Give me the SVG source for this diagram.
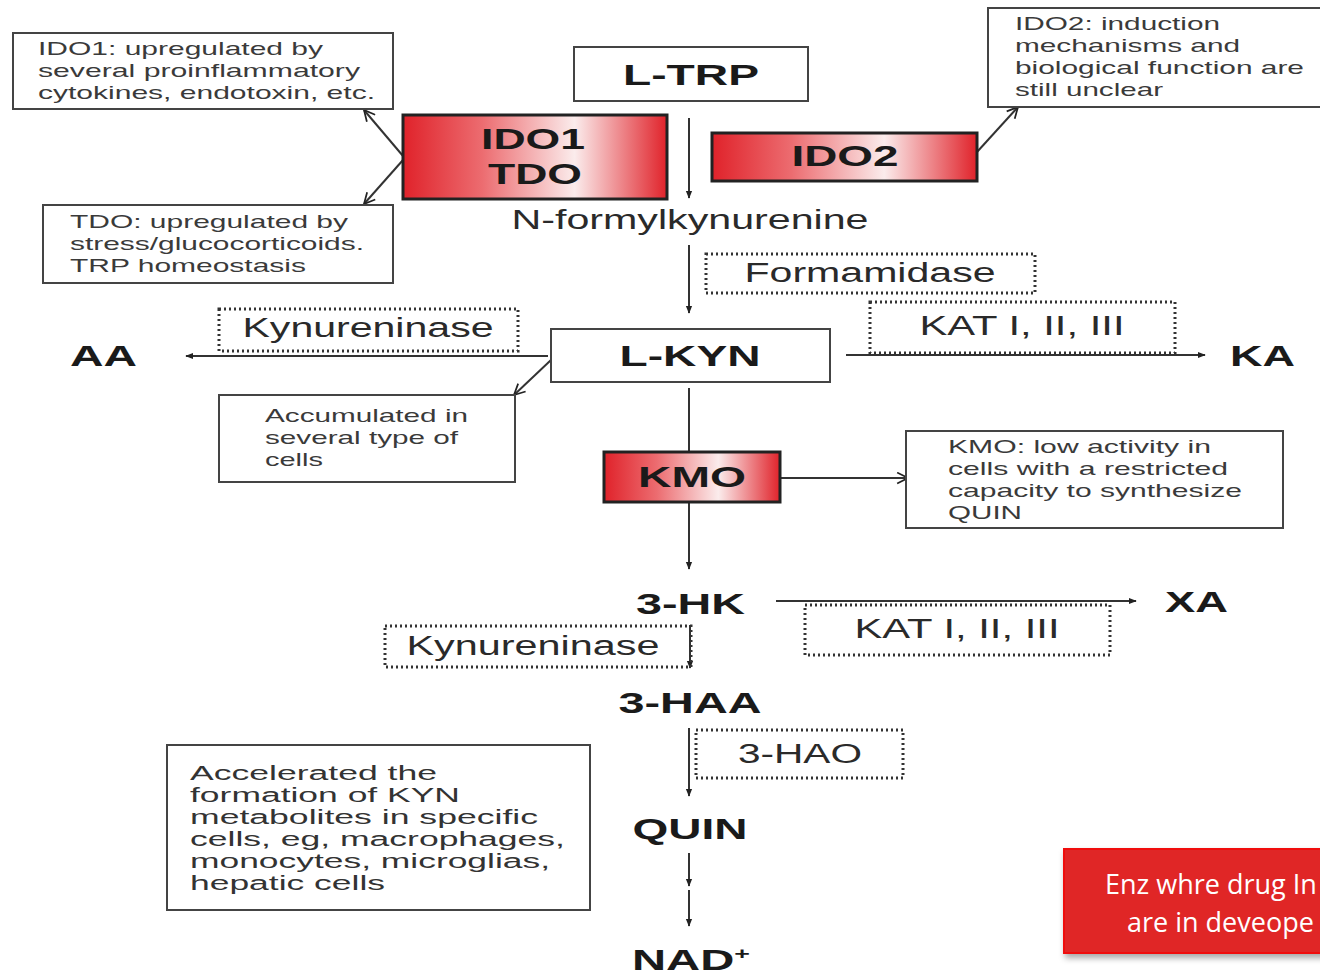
<svg xmlns="http://www.w3.org/2000/svg" width="1320" height="976" viewBox="0 0 1320 976">
<defs>
<linearGradient id="redg" x1="0" y1="0" x2="1" y2="0">
<stop offset="0" stop-color="#e0222a"/>
<stop offset="0.3" stop-color="#ec6c70"/>
<stop offset="0.65" stop-color="#fbecec"/>
<stop offset="1" stop-color="#e0222a"/>
</linearGradient>
<marker id="ah" viewBox="0 0 10 10" refX="9" refY="5" markerWidth="8" markerHeight="8" markerUnits="userSpaceOnUse" orient="auto">
<path d="M0,1 L10,5 L0,9 z" fill="#222"/>
</marker>
<marker id="oa" viewBox="0 0 12 12" refX="11" refY="6" markerWidth="13" markerHeight="13" markerUnits="userSpaceOnUse" orient="auto">
<path d="M1,1 L11,6 L1,11" fill="none" stroke="#222" stroke-width="1.6"/>
</marker>
<filter id="sh" x="-10%" y="-10%" width="130%" height="140%">
<feDropShadow dx="2" dy="4" stdDeviation="3" flood-color="#000" flood-opacity="0.35"/>
</filter>
</defs>
<style>
.box{fill:#fff;stroke:#444;stroke-width:2}
.dot{fill:none;stroke:#333;stroke-width:3;stroke-dasharray:2 3}
.red{fill:url(#redg);stroke:#222;stroke-width:3}
.note{font-family:"Liberation Sans",Arial,sans-serif;font-size:19px;fill:#3a3a3a}
.big{font-family:"Liberation Sans",Arial,sans-serif;font-size:30px;font-weight:bold;fill:#1a1a1a}
.enz{font-family:"Liberation Sans",Arial,sans-serif;font-size:27px;fill:#2a2a2a}
.ln{fill:none;stroke:#333;stroke-width:2}
.acc{font-family:"Liberation Sans",Arial,sans-serif;font-size:20px;fill:#333}
.cal{font-family:"Open Sans","Liberation Sans",sans-serif;font-size:27px;fill:#fff}
</style>
<rect width="1320" height="976" fill="#fff"/>

<g id="connectors">
<line class="ln" x1="689" y1="118" x2="689" y2="198" marker-end="url(#ah)"/>
<line class="ln" x1="689" y1="245" x2="689" y2="313" marker-end="url(#ah)"/>
<line class="ln" x1="548" y1="356" x2="186" y2="356" marker-end="url(#ah)"/>
<line class="ln" x1="846" y1="355" x2="1205" y2="355" marker-end="url(#ah)"/>
<line class="ln" x1="551" y1="360" x2="514" y2="395" marker-end="url(#oa)"/>
<line class="ln" x1="689" y1="388" x2="689" y2="452"/>
<line class="ln" x1="689" y1="502" x2="689" y2="569" marker-end="url(#ah)"/>
<line class="ln" x1="780" y1="478" x2="908" y2="478" marker-end="url(#oa)"/>
<line class="ln" x1="776" y1="601" x2="1136" y2="601" marker-end="url(#ah)"/>
<line class="ln" x1="690" y1="625" x2="690" y2="668" marker-end="url(#ah)"/>
<line class="ln" x1="689" y1="728" x2="689" y2="796" marker-end="url(#ah)"/>
<line class="ln" x1="689" y1="853" x2="689" y2="886" marker-end="url(#ah)"/>
<line class="ln" x1="689" y1="890" x2="689" y2="926" marker-end="url(#ah)"/>
<line class="ln" x1="403" y1="156" x2="364" y2="110" marker-end="url(#oa)"/>
<line class="ln" x1="403" y1="160" x2="364" y2="204" marker-end="url(#oa)"/>
<line class="ln" x1="977" y1="152" x2="1018" y2="107" marker-end="url(#oa)"/>
</g>

<g id="ido1-note">
<rect class="box" x="13" y="33" width="380" height="76"/>
<text class="note" x="38" y="55" textLength="285" lengthAdjust="spacingAndGlyphs">IDO1: upregulated by</text>
<text class="note" x="38" y="77" textLength="322" lengthAdjust="spacingAndGlyphs">several proinflammatory</text>
<text class="note" x="38" y="99" textLength="337" lengthAdjust="spacingAndGlyphs">cytokines, endotoxin, etc.</text>
</g>

<g id="tdo-note">
<rect class="box" x="43" y="205" width="350" height="78"/>
<text class="note" x="70" y="228" textLength="278" lengthAdjust="spacingAndGlyphs">TDO: upregulated by</text>
<text class="note" x="70" y="250" textLength="294" lengthAdjust="spacingAndGlyphs">stress/glucocorticoids.</text>
<text class="note" x="70" y="272" textLength="236" lengthAdjust="spacingAndGlyphs">TRP homeostasis</text>
</g>

<g id="ltrp">
<rect class="box" x="574" y="47" width="234" height="54"/>
<text class="big" x="691" y="85" text-anchor="middle" textLength="136" lengthAdjust="spacingAndGlyphs">L-TRP</text>
</g>

<g id="ido1-tdo">
<rect class="red" x="403" y="115" width="264" height="84"/>
<text class="big" x="533" y="149" text-anchor="middle" textLength="104" lengthAdjust="spacingAndGlyphs">IDO1</text>
<text class="big" x="535" y="184" text-anchor="middle" textLength="94" lengthAdjust="spacingAndGlyphs">TDO</text>
</g>

<g id="ido2">
<rect class="red" x="712" y="133" width="265" height="48"/>
<text class="big" x="845" y="166" text-anchor="middle" textLength="107" lengthAdjust="spacingAndGlyphs">IDO2</text>
</g>

<g id="ido2-note">
<rect class="box" x="988" y="8" width="340" height="99"/>
<text class="note" x="1015" y="30" textLength="205" lengthAdjust="spacingAndGlyphs">IDO2: induction</text>
<text class="note" x="1015" y="52" textLength="225" lengthAdjust="spacingAndGlyphs">mechanisms and</text>
<text class="note" x="1015" y="74" textLength="289" lengthAdjust="spacingAndGlyphs">biological function are</text>
<text class="note" x="1015" y="96" textLength="148" lengthAdjust="spacingAndGlyphs">still unclear</text>
</g>

<g id="nfk">
<text class="enz" x="690" y="229" text-anchor="middle" textLength="357" lengthAdjust="spacingAndGlyphs">N-formylkynurenine</text>
</g>

<g id="formamidase">
<rect class="dot" x="706" y="254" width="329" height="39"/>
<text class="enz" x="870" y="282" text-anchor="middle" textLength="251" lengthAdjust="spacingAndGlyphs">Formamidase</text>
</g>

<g id="lkyn">
<rect class="box" x="551" y="329" width="279" height="53"/>
<text class="big" x="690" y="366" text-anchor="middle" textLength="141" lengthAdjust="spacingAndGlyphs">L-KYN</text>
</g>

<g id="kynureninase1">
<rect class="dot" x="219" y="309" width="299" height="42"/>
<text class="enz" x="368" y="337" text-anchor="middle" textLength="251" lengthAdjust="spacingAndGlyphs">Kynureninase</text>
</g>

<g id="aa">
<text class="big" x="70" y="366" textLength="67" lengthAdjust="spacingAndGlyphs">AA</text>
</g>

<g id="kat1">
<rect class="dot" x="870" y="302" width="305" height="51"/>
<text class="enz" x="1022" y="335" text-anchor="middle" textLength="205" lengthAdjust="spacingAndGlyphs">KAT I, II, III</text>
</g>

<g id="ka">
<text class="big" x="1230" y="366" textLength="65" lengthAdjust="spacingAndGlyphs">KA</text>
</g>

<g id="accum-note">
<rect class="box" x="219" y="395" width="296" height="87"/>
<text class="note" x="265" y="422" textLength="203" lengthAdjust="spacingAndGlyphs">Accumulated in</text>
<text class="note" x="265" y="444" textLength="193" lengthAdjust="spacingAndGlyphs">several type of</text>
<text class="note" x="265" y="466" textLength="58" lengthAdjust="spacingAndGlyphs">cells</text>
</g>

<g id="kmo">
<rect class="red" x="604" y="452" width="176" height="50"/>
<text class="big" x="692" y="487" text-anchor="middle" textLength="108" lengthAdjust="spacingAndGlyphs">KMO</text>
</g>

<g id="kmo-note">
<rect class="box" x="906" y="431" width="377" height="97"/>
<text class="note" x="948" y="453" textLength="263" lengthAdjust="spacingAndGlyphs">KMO: low activity in</text>
<text class="note" x="948" y="475" textLength="280" lengthAdjust="spacingAndGlyphs">cells with a restricted</text>
<text class="note" x="948" y="497" textLength="294" lengthAdjust="spacingAndGlyphs">capacity to synthesize</text>
<text class="note" x="948" y="519" textLength="74" lengthAdjust="spacingAndGlyphs">QUIN</text>
</g>

<g id="hk3">
<text class="big" x="636" y="614" textLength="109" lengthAdjust="spacingAndGlyphs">3-HK</text>
</g>

<g id="xa">
<text class="big" x="1165" y="612" textLength="63" lengthAdjust="spacingAndGlyphs">XA</text>
</g>

<g id="kat2">
<rect class="dot" x="805" y="605" width="305" height="50"/>
<text class="enz" x="957" y="638" text-anchor="middle" textLength="205" lengthAdjust="spacingAndGlyphs">KAT I, II, III</text>
</g>

<g id="kynureninase2">
<rect class="dot" x="385" y="626" width="306" height="41"/>
<text class="enz" x="533" y="655" text-anchor="middle" textLength="253" lengthAdjust="spacingAndGlyphs">Kynureninase</text>
</g>

<g id="haa3">
<text class="big" x="690" y="713" text-anchor="middle" textLength="143" lengthAdjust="spacingAndGlyphs">3-HAA</text>
</g>

<g id="hao3">
<rect class="dot" x="696" y="730" width="207" height="48"/>
<text class="enz" x="800" y="763" text-anchor="middle" textLength="124" lengthAdjust="spacingAndGlyphs">3-HAO</text>
</g>

<g id="quin">
<text class="big" x="690" y="839" text-anchor="middle" textLength="115" lengthAdjust="spacingAndGlyphs">QUIN</text>
</g>

<g id="nad">
<text class="big" x="632" y="970" font-size="28" textLength="118" lengthAdjust="spacingAndGlyphs">NAD<tspan font-size="17" dy="-11">+</tspan></text>
</g>

<g id="accel-note">
<rect class="box" x="167" y="745" width="423" height="165"/>
<text class="acc" x="190" y="780" textLength="247" lengthAdjust="spacingAndGlyphs">Accelerated the</text>
<text class="acc" x="190" y="802" textLength="270" lengthAdjust="spacingAndGlyphs">formation of KYN</text>
<text class="acc" x="190" y="824" textLength="348" lengthAdjust="spacingAndGlyphs">metabolites in specific</text>
<text class="acc" x="190" y="846" textLength="375" lengthAdjust="spacingAndGlyphs">cells, eg, macrophages,</text>
<text class="acc" x="190" y="868" textLength="360" lengthAdjust="spacingAndGlyphs">monocytes, microglias,</text>
<text class="acc" x="190" y="890" textLength="195" lengthAdjust="spacingAndGlyphs">hepatic cells</text>
</g>

<g id="callout">
<rect x="1064" y="849" width="290" height="104" fill="#e02628" stroke="#f00a0a" stroke-width="2" filter="url(#sh)"/>
<text class="cal" x="1105" y="894">Enz whre drug In</text>
<text class="cal" x="1127" y="932">are in deveope</text>
</g>
</svg>
